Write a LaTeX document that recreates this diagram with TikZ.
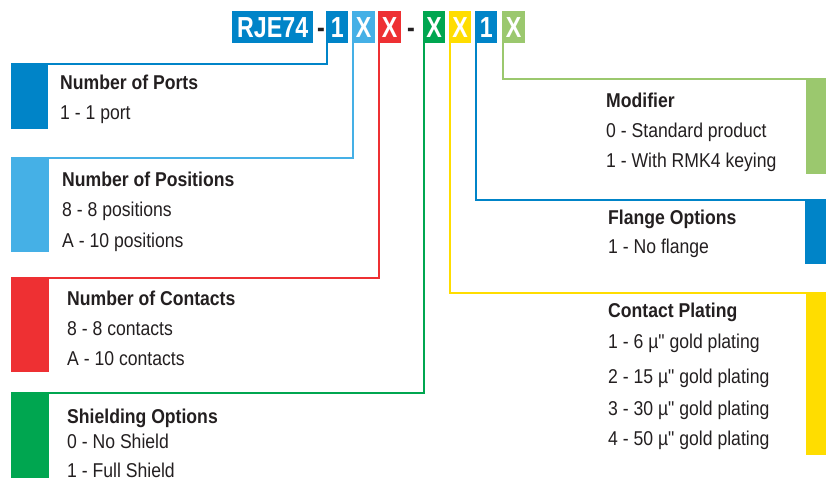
\documentclass[tikz,border=0pt]{standalone}
\usepackage{fontspec}
\setmainfont{Liberation Sans}[FakeStretch=0.88, Ligatures=TeXOff]
\newfontfamily\codefont{Liberation Sans}[FakeStretch=0.8]
\usepackage{tikz}
\usetikzlibrary{positioning}
\definecolor{cblue}{HTML}{0084C8}
\definecolor{clblue}{HTML}{45B0E6}
\definecolor{cred}{HTML}{EE3033}
\definecolor{cgreen}{HTML}{00A650}
\definecolor{cyellow}{HTML}{FFDD00}
\definecolor{clgreen}{HTML}{9BC86E}
\definecolor{ctext}{HTML}{231F20}
\begin{document}
\begin{tikzpicture}[x=1pt, y=-1pt,
    code/.style={anchor=north west, inner sep=0pt, minimum height=32pt, minimum width=23pt,
        text=white, font=\codefont\bfseries\fontsize{29}{30}\selectfont},
    bar/.style={anchor=north west, inner sep=0pt, draw=none},
    head/.style={anchor=base west, inner sep=0pt, text=ctext, font=\bfseries\fontsize{20}{24}\selectfont},
    item/.style={anchor=base west, inner sep=0pt, text=ctext, font=\fontsize{20}{24}\selectfont},
    link/.style={line width=2pt}]
    \useasboundingbox (0,0) rectangle (826,478);
    % code boxes
    \node[code, fill=cblue, minimum width=81pt] (base) at (232,11) {RJE74};
    \node[anchor=base, inner sep=0pt, text=ctext, font=\codefont\bfseries\fontsize{29}{30}\selectfont] (dash1) at (321,38) {-};
    \node[code, fill=cblue, minimum width=22pt] (c1) at (326,11) {1};
    \node[code, fill=clblue] (c2) at (352,11) {X};
    \node[code, fill=cred] (c3) at (378,11) {X};
    \node[anchor=base, inner sep=0pt, text=ctext, font=\codefont\bfseries\fontsize{29}{30}\selectfont] (dash2) at (411,38) {-};
    \node[code, fill=cgreen, minimum width=22pt] (c4) at (423,11) {X};
    \node[code, fill=cyellow, minimum width=22pt] (c5) at (449,11) {X};
    \node[code, fill=cblue, minimum width=22pt] (c6) at (475,11) {1};
    \node[code, fill=clgreen] (c7) at (502,11) {X};

    % colour bars
    \node[bar, fill=cblue, minimum width=37pt, minimum height=65pt] (barports) at (11,64) {};
    \node[bar, fill=clblue, minimum width=38pt, minimum height=94pt] (barpos) at (11,158) {};
    \node[bar, fill=cred, minimum width=38pt, minimum height=94pt] (barcont) at (11,278) {};
    \node[bar, fill=cgreen, minimum width=38pt, minimum height=85pt] (barshield) at (11,393) {};
    \node[bar, fill=clgreen, minimum width=20pt, minimum height=95pt] (barmod) at (806,79) {};
    \node[bar, fill=cblue, minimum width=21pt, minimum height=64pt] (barflange) at (805,200) {};
    \node[bar, fill=cyellow, minimum width=20pt, minimum height=162pt] (barplat) at (806,293) {};

    % lines
    \draw[link, cblue] ([xshift=1pt]c1.south west) |- (barports.north west);
    \draw[link, clblue] ([xshift=1pt]c2.south west) |- (barpos.north west);
    \draw[link, cred] ([xshift=1pt]c3.south west) |- (barcont.north west);
    \draw[link, cgreen] ([xshift=1pt]c4.south west) |- (barshield.north west);
    \draw[link, cyellow] ([xshift=1pt]c5.south west) |- (barplat.north east);
    \draw[link, cblue] ([xshift=1pt]c6.south west) |- (barflange.north east);
    \draw[link, clgreen] ([xshift=1pt]c7.south west) |- (barmod.north east);

    % texts
    \node[head] (ports-t) at (60,90) {Number of Ports};
    \node[item] (ports-1) at (60,120) {1 - 1 port};
    \node[head] (pos-t) at (62,187) {Number of Positions};
    \node[item] (pos-1) at (62,217) {8 - 8 positions};
    \node[item] (pos-2) at (62,247) {A - 10 positions};
    \node[head] (cont-t) at (67,305) {Number of Contacts};
    \node[item] (cont-1) at (67,335) {8 - 8 contacts};
    \node[item] (cont-2) at (67,365) {A - 10 contacts};
    \node[head] (shield-t) at (67,423) {Shielding Options};
    \node[item] (shield-1) at (67,448) {0 - No Shield};
    \node[item] (shield-2) at (67,477) {1 - Full Shield};
    \node[head] (mod-t) at (606,108) {Modifier};
    \node[item] (mod-1) at (606,138) {0 - Standard product};
    \node[item] (mod-2) at (606,168) {1 - With RMK4 keying};
    \node[head] (flange-t) at (608,225) {Flange Options};
    \node[item] (flange-1) at (608,253) {1 - No flange};
    \node[head] (plat-t) at (608,317) {Contact Plating};
    \node[item] (plat-1) at (608,348) {1 - 6 µ" gold plating};
    \node[item] (plat-2) at (608,383) {2 - 15 µ" gold plating};
    \node[item] (plat-3) at (608,415) {3 - 30 µ" gold plating};
    \node[item] (plat-4) at (608,445) {4 - 50 µ" gold plating};
\end{tikzpicture}
\end{document}
